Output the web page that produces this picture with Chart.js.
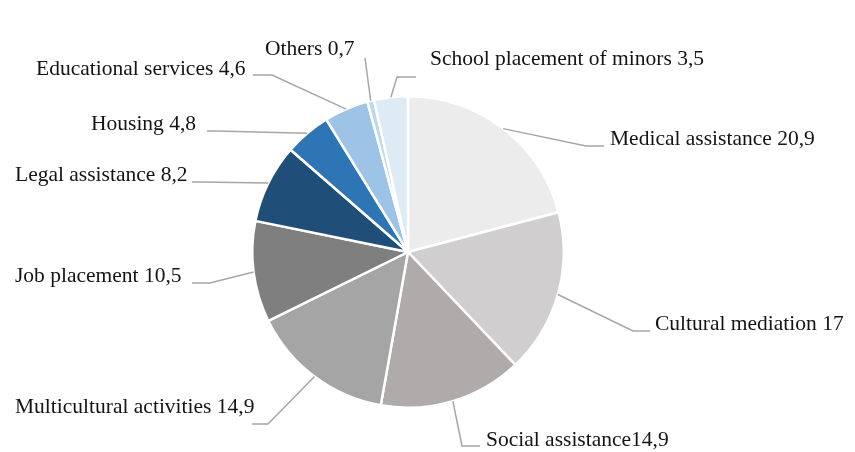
<!DOCTYPE html>
<html>
<head>
<meta charset="utf-8">
<script src="https://cdn.jsdelivr.net/npm/chart.js@4"></script>
<style>
  html, body { margin: 0; padding: 0; background: #fff; }
  #pie { display: block; }
</style>
</head>
<body>
<canvas id="pie" width="855" height="452"></canvas>
<script>
const categories = [
  'Medical assistance',
  'Cultural mediation',
  'Social assistance',
  'Multicultural activities',
  'Job placement',
  'Legal assistance',
  'Housing',
  'Educational services',
  'Others',
  'School placement of minors',
];
const values = [20.9, 17, 14.9, 14.9, 10.5, 8.2, 4.8, 4.6, 0.7, 3.5];
// the original has no space before the number for "Social assistance"
const separators = [' ', ' ', '', ' ', ' ', ' ', ' ', ' ', ' ', ' '];

const sliceColors = [
  '#ececec', '#d0cece', '#afabab', '#a5a5a5', '#7f7f7f',
  '#1f4e79', '#2e75b6', '#9dc3e6', '#bdd7ee', '#deebf7',
];

// leader line elbow, end of horizontal segment, text anchor (left, baseline)
const labelLayout = [
  { elbow: [586, 146], endX: 604, text: [610, 145] },
  { elbow: [633, 331], endX: 650, text: [655, 330] },
  { elbow: [462, 446], endX: 480, text: [486, 446] },
  { elbow: [268, 424], endX: 252, text: [15, 413] },
  { elbow: [210, 283], endX: 192, text: [15, 282] },
  { elbow: [200, 182], endX: 192, text: [15, 181] },
  { elbow: [215, 131], endX: 207, text: [91, 130] },
  { elbow: [272, 75], endX: 253, text: [36, 75] },
  { elbow: [365, 58], endX: 365, text: [265, 55] },
  { elbow: [397, 77], endX: 416, text: [430, 65] },
];

const formatValue = v => String(v).replace('.', ',');

const leaderLabels = {
  id: 'leaderLabels',
  afterDatasetsDraw(chart) {
    const ctx = chart.ctx;
    const arcs = chart.getDatasetMeta(0).data;
    ctx.save();
    ctx.strokeStyle = '#a6a6a6';
    ctx.lineWidth = 1.5;
    ctx.fillStyle = '#141414';
    ctx.font = '21.5px "Liberation Serif", "Times New Roman", serif';
    ctx.textBaseline = 'alphabetic';
    ctx.textAlign = 'left';
    arcs.forEach((arc, i) => {
      const p = arc.getProps(['x', 'y', 'startAngle', 'endAngle', 'outerRadius'], true);
      const mid = (p.startAngle + p.endAngle) / 2;
      const sx = p.x + Math.cos(mid) * p.outerRadius;
      const sy = p.y + Math.sin(mid) * p.outerRadius;
      const lay = labelLayout[i];
      ctx.beginPath();
      ctx.moveTo(sx, sy);
      ctx.lineTo(lay.elbow[0], lay.elbow[1]);
      ctx.lineTo(lay.endX, lay.elbow[1]);
      ctx.stroke();
      const text = categories[i] + separators[i] + formatValue(values[i]);
      ctx.fillText(text, lay.text[0], lay.text[1]);
    });
    ctx.restore();
  },
};

new Chart(document.getElementById('pie'), {
  type: 'pie',
  data: {
    labels: categories,
    datasets: [{
      data: values,
      backgroundColor: sliceColors,
      borderColor: '#ffffff',
      borderWidth: 2.5,
    }],
  },
  options: {
    responsive: false,
    animation: false,
    layout: { padding: { left: 251, right: 290, top: 95, bottom: 43 } },
    plugins: {
      legend: { display: false },
      tooltip: { enabled: false },
    },
  },
  plugins: [leaderLabels],
});
</script>
</body>
</html>
